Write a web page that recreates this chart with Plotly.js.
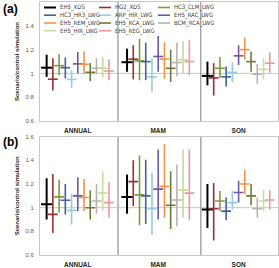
<!DOCTYPE html>
<html><head><meta charset="utf-8">
<script src="https://cdn.plot.ly/plotly-3.0.1.min.js"></script>
<style>html,body{margin:0;padding:0;background:#fff}#chart{width:279px;height:268px}</style>
</head><body><div id="chart"></div>
<script>
const categories = ['ANNUAL', 'MAM', 'SON'];
const seriesNames = ['EH5_XDS', 'HG2_XDS', 'HC3_CLM_LWG', 'HC3_HR3_LWG', 'ARP_HIR_LWG', 'EH5_RAC_LWG',
  'EH5_REM_LWG', 'EH5_RCA_LWG', 'BCM_RCA_LWG', 'EH5_HIR_LWG', 'EH5_REG_LWG'];
const seriesColors = ['#000000', '#9a2f33', '#7f9a3e', '#43609f', '#93cde0', '#6b58a6',
  '#f39445', '#6f7a38', '#b3b3b3', '#c8dc9c', '#e8989e'];

// Panel (a): central value, upper and lower bound per series, columns = ANNUAL, MAM, SON
const midA = [
  [1.048, 1.094, 0.979], [0.951, 1.120, 0.962], [1.065, 1.105, 1.043], [1.048, 1.099, 0.971],
  [0.949, 0.971, 1.009], [1.080, 1.142, 1.148], [1.077, 1.120, 1.200], [1.009, 1.043, 1.099],
  [1.043, 1.091, 0.994], [1.043, 1.114, 1.034], [1.020, 1.099, 1.086]];
const highA = [
  [1.157, 1.208, 1.099], [1.128, 1.237, 1.086], [1.163, 1.291, 1.137], [1.134, 1.257, 1.057],
  [1.028, 1.128, 1.094], [1.180, 1.314, 1.237], [1.185, 1.262, 1.300], [1.086, 1.200, 1.185],
  [1.128, 1.257, 1.080], [1.142, 1.271, 1.128], [1.120, 1.279, 1.177]];
const lowA = [
  [0.971, 1.014, 0.900], [0.857, 0.951, 0.814], [0.985, 0.943, 0.962], [0.957, 0.943, 0.891],
  [0.877, 0.848, 0.928], [1.000, 1.014, 1.071], [0.994, 0.957, 1.114], [0.934, 0.928, 1.014],
  [0.994, 0.977, 0.914], [0.966, 1.000, 0.949], [0.943, 0.985, 1.005]];

// Panel (b)
const midB = [
  [1.028, 1.091, 0.985], [0.943, 1.220, 0.991], [1.091, 1.108, 1.057], [1.063, 1.100, 0.971],
  [0.977, 0.991, 1.043], [1.100, 1.157, 1.128], [1.086, 1.180, 1.200], [1.000, 1.020, 1.100],
  [1.057, 1.065, 0.991], [1.123, 1.148, 1.057], [1.043, 1.123, 1.065]];
const highB = [
  [1.248, 1.280, 1.200], [1.285, 1.400, 1.208], [1.237, 1.442, 1.142], [1.200, 1.405, 1.086],
  [1.114, 1.294, 1.142], [1.257, 1.491, 1.228], [1.243, 1.537, 1.320], [1.148, 1.308, 1.200],
  [1.200, 1.365, 1.086], [1.305, 1.491, 1.148], [1.214, 1.491, 1.148]];
const lowB = [
  [0.900, 0.948, 0.829], [0.786, 1.014, 0.722], [0.957, 0.851, 0.971], [0.943, 0.863, 0.894],
  [0.857, 0.771, 0.985], [0.971, 0.900, 1.043], [0.971, 0.914, 1.114], [0.900, 0.820, 1.020],
  [0.951, 0.843, 0.914], [0.977, 0.914, 0.971], [0.914, 0.894, 0.985]];

const SPACING = 0.0775;
const catIdx = categories.map((c, i) => i);
const textFont = 'Liberation Sans Narrow, DejaVu Sans Condensed, Arial, sans-serif';

function panelTraces(mid, high, low, xa, ya) {
  return seriesNames.map((name, k) => {
    const isBlack = k === 0;
    return {
      type: 'scatter', mode: 'markers', name: name, showlegend: false,
      xaxis: xa, yaxis: ya,
      x: catIdx.map(i => i + (k - 5) * SPACING),
      y: mid[k],
      error_y: {
        type: 'data', symmetric: false,
        array: mid[k].map((m, i) => high[k][i] - m),
        arrayminus: mid[k].map((m, i) => m - low[k][i]),
        width: 0, thickness: isBlack ? 2 : 1.6, color: seriesColors[k]
      },
      marker: { symbol: 'line-ew', size: isBlack ? 8 : 7,
        color: seriesColors[k], line: { color: seriesColors[k], width: isBlack ? 2 : 1.6 } },
      hoverinfo: 'name+y'
    };
  });
}

const traces = panelTraces(midA, highA, lowA, 'x', 'y').concat(panelTraces(midB, highB, lowB, 'x2', 'y2'));

function xAxis(domainAnchor) {
  return {
    anchor: domainAnchor, range: [-0.47, 2.49], domain: [0, 1],
    tickvals: catIdx, ticktext: categories.map(c => '<b>' + c + '</b>'),
    tickfont: { size: 6.5, color: '#262626', family: 'Arial, Liberation Sans, sans-serif' },
    showgrid: false, zeroline: false, ticks: '', ticklabelstandoff: 3,
    showline: true, mirror: true, linecolor: '#c8c8c8', linewidth: 1
  };
}
function yAxis(domain, anchor) {
  return {
    anchor: anchor, domain: domain, range: [0.6, 1.6], dtick: 0.2, tick0: 0.6,
    tickfont: { size: 6, color: '#595959', family: 'Arial, Liberation Sans, sans-serif' },
    showgrid: false, zeroline: false, ticks: '', ticklabelstandoff: 4,
    showline: true, mirror: true, linecolor: '#c8c8c8', linewidth: 1,
    title: { text: '<b>Scenario/control simulation</b>', standoff: 5,
      font: { size: 6, color: '#262626', family: 'Arial, Liberation Sans, sans-serif' } }
  };
}

// paper coordinate helpers (plot area: x 40..278 px, y 2..255 px)
const px = v => (v - 40) / 238;
const py = v => 1 - (v - 2) / 253;

const shapes = [];
const annotations = [];

// reference line at 1 and season dividers for both panels
[['x', 'y', '#7f7f7f', 1], ['x2', 'y2', '#a6a6a6', 1.5]].forEach(([xa, ya, dc, dw]) => {
  shapes.push({ type: 'line', xref: xa + ' domain', yref: ya, x0: 0, x1: 1, y0: 1, y1: 1,
    line: { color: '#c8c8c8', width: 1 }, layer: 'below' });
  [0.5, 1.53].forEach(b => shapes.push({ type: 'line', xref: xa, yref: ya + ' domain',
    x0: b, x1: b, y0: 0, y1: 1, line: { color: dc, width: dw }, layer: 'below' }));
});

// legend: three columns in the upper left of panel (a)
const colX = [44, 99, 158];
const rowY = [7.5, 15.2, 23, 30.7];
seriesNames.forEach((name, k) => {
  const c = k % 3, r = Math.floor(k / 3);
  shapes.push({ type: 'line', xref: 'paper', yref: 'paper',
    x0: px(colX[c]), x1: px(colX[c] + 12), y0: py(rowY[r]), y1: py(rowY[r]),
    line: { color: seriesColors[k], width: k === 0 ? 2 : 1.6 } });
  annotations.push({ xref: 'paper', yref: 'paper', x: px(colX[c] + 13.5), y: py(rowY[r]),
    xanchor: 'left', yanchor: 'middle', showarrow: false, text: name,
    font: { size: 6, color: '#404040', family: textFont } });
});

// panel letters
annotations.push({ xref: 'paper', yref: 'paper', x: px(0.5), y: py(9), xanchor: 'left', yanchor: 'middle',
  showarrow: false, text: '<b>(a)</b>', font: { size: 12, color: '#000', family: 'Arial, Liberation Sans, sans-serif' } });
annotations.push({ xref: 'paper', yref: 'paper', x: px(0.5), y: py(142), xanchor: 'left', yanchor: 'middle',
  showarrow: false, text: '<b>(b)</b>', font: { size: 12, color: '#000', family: 'Arial, Liberation Sans, sans-serif' } });

const layout = {
  width: 279, height: 268,
  margin: { l: 40, r: 1, t: 2, b: 13 },
  paper_bgcolor: '#ffffff', plot_bgcolor: '#ffffff',
  showlegend: false,
  xaxis: xAxis('y'), yaxis: yAxis([0.5296, 1], 'x'),
  xaxis2: xAxis('y2'), yaxis2: yAxis([0, 0.4676], 'x2'),
  shapes: shapes, annotations: annotations
};

Plotly.newPlot('chart', traces, layout, { displayModeBar: false, staticPlot: true });
</script>
</body></html>
